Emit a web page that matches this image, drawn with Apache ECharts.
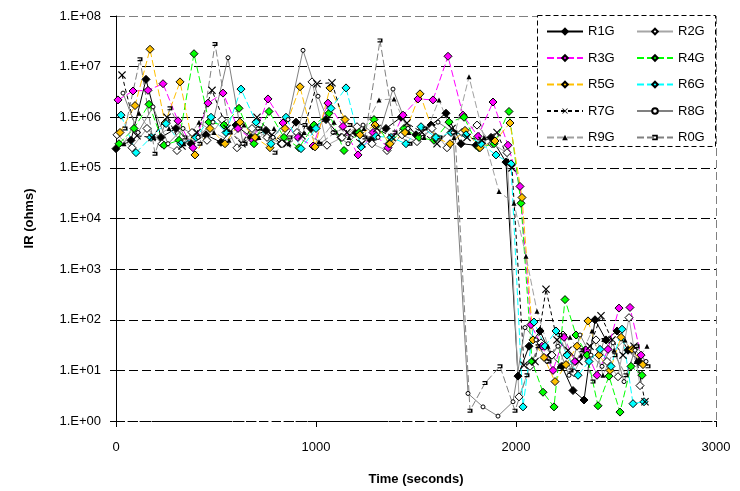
<!DOCTYPE html>
<html>
<head>
<meta charset="utf-8">
<script src="https://cdn.jsdelivr.net/npm/echarts@6/dist/echarts.min.js"></script>
<style>
html,body{margin:0;padding:0;background:#fff;}
#chart{width:740px;height:491px;}
</style>
</head>
<body>
<div id="chart"></div>
<script>
// ---- data ----
// start time (s) of each measurement scan
var cycleTimes = [0,75,150,225,300,375,450,525,600,675,750,825,900,975,1050,1125,1200,1275,1350,1425,1500,1575,1650,1725,1800,1875,1950,2010,2065,2120,2175,2230,2285,2340,2395,2450,2505,2560,2615];
// delay (s) of each channel within a scan
var channelDelay = [0,5,10,15,20,25,30,35,40,45];
var seriesNames = ['R1G','R2G','R3G','R4G','R5G','R6G','R7G','R8G','R9G','R0G'];

var r1g = [2.4e5,3.5e5,5.6e6,4e5,6e5,3e5,4.5e5,3.2e5,7e5,4e5,5.5e5,3e5,8e5,6e5,9e5,4e5,5e5,3.5e5,6e5,1.0e6,4.5e5,7e5,1.2e6,3e5,2.8e5,4e5,1.3e5,7.7,30,60,20,12,4,2.6,100,40,60,25,15];
var r2g = [4.5e5,2.5e5,6e5,3e5,2.2e5,5e5,3.5e5,9e5,2.5e5,6e5,4e5,3e5,5e5,5e6,2.8e5,4e5,6.5e5,3e5,2.2e5,4.5e5,3.3e5,6e5,2.5e5,5e5,7e5,3e5,2e5,3,12,35,20,50,9,25,40,15,7.5,110,5];
var r3g = [2.2e6,3.3e6,3.4e6,4.6e6,8.5e5,2.5e5,1.9e6,3e6,6e5,3.5e5,2.3e6,7.7e5,4e5,2.7e5,1.9e6,6.6e5,1.8e5,5e5,2.5e5,1.1e6,2.3e6,2.2e6,1.6e7,1.1e6,4.2e5,2e6,2.8e5,4.3e4,80,30,10,45,15,25,8,26,170,175,20];
var r4g = [3e5,6e5,1.8e6,2.8e5,3.5e5,1.8e7,8e5,7e5,1.5e6,3e5,1.3e6,4e5,2.5e5,7e5,1.2e6,2.2e5,5e5,9e5,3e5,6e5,4e5,3.5e5,8e5,1e6,2.5e5,3e5,1.3e6,2e4,15,3.7,1.9,250,50,20,2,7.7,1.5,12,8];
var r5g = [5e5,1.7e6,2.2e7,7.7e5,5e6,1.8e5,6e5,3e5,8e5,4e5,2.5e5,6e5,4e6,2.6e5,3.8e6,9e5,4.5e5,7e5,3e5,5e5,2.9e6,4e5,3e5,5.5e5,2.5e5,3.4e5,7.7e5,2.6e4,40,18,6,13,30,95,20,10,45,26,13];
var r6g = [1.1e6,2e5,4e5,7.5e5,3e5,4e5,1e6,5e5,3.6e6,8e5,3e5,1e6,2.4e5,6e5,1.5e6,3.8e6,2.6e5,4.2e5,4e5,3e5,6.5e5,4e5,5e5,4.5e5,3e5,1.8e5,1.2e5,1.9,90,30,60,20,8,15,26,12,65,2.2,2.4];
var r7g = [6.8e6,4.3e5,4e5,1e6,2.7e5,5e5,3.4e6,6e5,3e5,1e6,4.5e5,3e5,4.3e5,4.6e6,4.8e6,5e5,3e5,6e5,4e5,7.7e5,5e5,3e5,6e5,4e5,3.5e5,5e5,1e5,12.6,15,400,40,25,15,30,120,40,20,30,2.4];
var r8g = [3e6,5e5,1.6e6,3e5,6e5,4e5,8e5,1.5e7,3e5,6e5,4e5,9e5,2.1e7,2.6e6,5e5,3e5,7e5,4e5,3.6e6,6e5,4e5,8e5,5e5,3.5,1.9,1.25,2.4,70,40,15,30,8,50,20,12,35,6,25,15];
var r9g = [3e5,1.2e6,4e5,6e5,3e5,8e5,5e5,3.5e5,7e5,4e5,6e5,3e5,5e5,3.3e5,8e5,4e5,6e5,2.2e6,2.3e6,5e5,4e5,2.2e6,4e5,6.3e6,4e5,3.4e4,2e4,1.8e3,147,30,12,45,20,60,8,25,40,15,30];
var r0g = [6e5,1.4e7,1.9e5,1.5e6,4e5,3e5,2.8e7,5e5,3e5,6e5,2e5,4e5,7e5,3e5,5e5,7e5,4e5,3.3e7,5e5,3e5,6e5,4e5,5e5,1.6,5.6,12,1.6,8,30,15,50,10,25,6,40,20,8,30,12];

var xTicks = [0,1000,2000,3000];
// ---- styling ----
var allValues = [r1g,r2g,r3g,r4g,r5g,r6g,r7g,r8g,r9g,r0g];
var xShape = 'path://M0,1L1,0L5,4L9,0L10,1L6,5L10,9L9,10L5,6L1,10L0,9L4,5Z';
var bracketShape = 'path://M0,0L10,0L10,10L0,10L0,7L7,7L7,3L0,3Z';
var styles = [
  {line:'#000000', type:'solid', sym:'diamond', fill:'#000000', size:8},
  {line:'#A6A6A6', type:'solid', sym:'diamond', fill:'#FFFFFF', size:8},
  {line:'#FF00FF', type:[7,3], sym:'diamond', fill:'#FF00FF', size:8},
  {line:'#00FF00', type:[7,3], sym:'diamond', fill:'#00FF00', size:8},
  {line:'#FFC000', type:[7,3], sym:'diamond', fill:'#FFC000', size:8},
  {line:'#00FFFF', type:[7,3], sym:'diamond', fill:'#00FFFF', size:8},
  {line:'#000000', type:[4,3], sym:xShape, fill:'#000000', size:8, noBorder:true},
  {line:'#808080', type:'solid', sym:'circle', fill:'#FFFFFF', size:4},
  {line:'#A0A0A0', type:[7,3], sym:'triangle', fill:'#000000', size:5, noBorder:true},
  {line:'#808080', type:[7,3], sym:bracketShape, fill:'#000000', size:[5,4], noBorder:true}
];

var series = seriesNames.map(function(name, i){
  var st = styles[i];
  var data = allValues[i].map(function(v, j){ return [cycleTimes[j] + channelDelay[i], v]; });
  return {
    name: name, type: 'line', data: data,
    symbol: st.sym, symbolSize: st.size, showAllSymbol: true,
    lineStyle: {color: st.line, width: 1, type: st.type},
    itemStyle: {color: st.fill, borderColor: st.noBorder ? st.fill : '#000', borderWidth: st.noBorder ? 0 : 1},
    emphasis: {disabled: true},
    animation: false, z: 2
  };
});

var chart = echarts.init(document.getElementById('chart'), null, {renderer:'canvas'});
var font = 'Liberation Sans, Arial, sans-serif';
var legendText = {fontFamily: font, fontSize: 13, color: '#000', lineHeight: 13};
chart.setOption({
  backgroundColor: '#fff',
  animation: false,
  textStyle: {fontFamily: font},
  grid: {left: 116, right: 24, top: 16, bottom: 69, containLabel: false},
  xAxis: {
    type: 'value', min: 0, max: 3000, interval: 1000,
    name: 'Time (seconds)', nameLocation: 'middle', nameGap: 52,
    nameTextStyle: {fontFamily: font, fontSize: 13, fontWeight: 'bold', color: '#000'},
    axisLine: {show: true, onZero: false, lineStyle: {color: '#000', type: [8,4], width: 1}},
    axisTick: {show: true, length: 6, lineStyle: {color: '#000'}},
    axisLabel: {fontFamily: font, fontSize: 13, color: '#000', margin: 20,
      formatter: function(v){ return xTicks.indexOf(v) >= 0 ? String(v) : ''; }},
    splitLine: {show: true, lineStyle: {color: ['rgba(0,0,0,0)','rgba(0,0,0,0)','rgba(0,0,0,0)','#808080'], type: [8,4], width: 1}}
  },
  yAxis: {
    type: 'log', logBase: 10, min: 1, max: 1e8, splitNumber: 8,
    name: 'IR (ohms)', nameLocation: 'middle', nameGap: 80, nameRotate: 90,
    nameTextStyle: {fontFamily: font, fontSize: 13, fontWeight: 'bold', color: '#000'},
    axisLine: {show: true, lineStyle: {color: '#000', width: 1}},
    axisTick: {show: true, length: 6, lineStyle: {color: '#000'}},
    axisLabel: {fontFamily: font, fontSize: 13, color: '#000', margin: 15,
      formatter: function(v){ var e = Math.round(Math.log10(v)); return '1.E+' + (e < 10 ? '0' : '') + e; }},
    splitLine: {show: true, lineStyle: {color: ['#000','#000','#000','#000','#000','#000','#000','#000','#808080'], type: [9,4], width: 1}}
  },
  graphic: [{
    type: 'rect', z: 5, shape: {x: 537.5, y: 15.5, width: 178, height: 131},
    style: {fill: '#fff', stroke: '#000', lineWidth: 1, lineDash: [5,3]}
  }],
  legend: [
    {data: ['R1G','R3G','R5G','R7G','R9G'], orient: 'vertical', left: 546, top: 25, itemWidth: 36, itemHeight: 7, itemGap: 13.5, textStyle: legendText, z: 6, selectedMode: false, padding: 0},
    {data: ['R2G','R4G','R6G','R8G','R0G'], orient: 'vertical', left: 636, top: 25, itemWidth: 36, itemHeight: 7, itemGap: 13.5, textStyle: legendText, z: 6, selectedMode: false, padding: 0}
  ],
  series: series
});
</script>
</body>
</html>
